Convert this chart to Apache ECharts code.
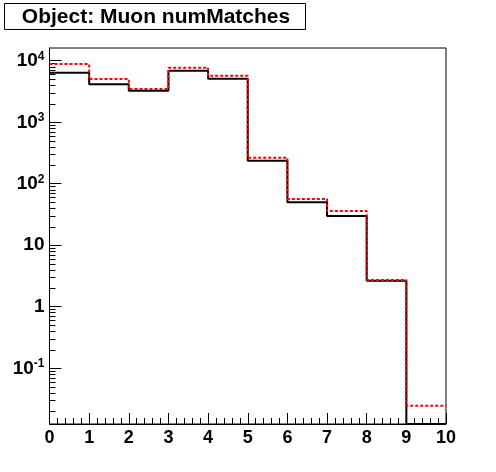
<!DOCTYPE html>
<html>
<head>
<meta charset="utf-8">
<script src="https://cdn.jsdelivr.net/npm/echarts@6/dist/echarts.min.js"></script>
<style>html,body{margin:0;padding:0;background:#fff}#c{width:496px;height:472px}</style>
</head>
<body>
<div id="c"></div>
<script>
// Bin lower edges (numMatches) and contents
var binEdges = [0, 1, 2, 3, 4, 5, 6, 7, 8, 9, 10];
var blackValues = [6340, 4100, 3230, 6820, 5060, 235, 49.5, 29.6, 2.63, 0];
var redValues = [8770, 5000, 3440, 7640, 5660, 263, 56, 35.7, 2.7, 0.0244];
var xTickLabels = ['0','1','2','3','4','5','6','7','8','9','10'];
var yMin = 0.0123, yMax = 16000;
var decades = [0.01, 0.1, 1, 10, 100, 1000, 10000];
var minorMultipliers = [2, 3, 4, 5, 6, 7, 8, 9];

var FONT = '"Liberation Sans", Arial, Helvetica, sans-serif';

function histPoints(vals) {
  var pts = [];
  for (var i = 0; i < vals.length; i++) {
    pts.push([binEdges[i], vals[i] > 0 ? vals[i] : yMin]);
  }
  pts.push([binEdges[vals.length], vals[vals.length - 1] > 0 ? vals[vals.length - 1] : yMin]);
  return pts;
}

var minorTicks = [];
decades.forEach(function (d) {
  minorMultipliers.forEach(function (m) {
    var v = d * m;
    if (v > yMin && v < yMax) minorTicks.push([0, v]);
  });
});

var chart = echarts.init(document.getElementById('c'), null, {renderer: 'canvas'});
chart.setOption({
  animation: false,
  backgroundColor: '#fff',
  grid: {left: 49.5, right: 50, top: 48, bottom: 48, show: true, borderColor: '#000', borderWidth: 1, backgroundColor: 'transparent'},
  xAxis: {
    type: 'value', min: 0, max: 10, interval: 1,
    axisLine: {show: true, onZero: false, lineStyle: {color: '#000', width: 1}},
    axisTick: {show: true, inside: true, length: 11, lineStyle: {color: '#000', width: 1}},
    minorTick: {show: true, splitNumber: 5, length: 6, lineStyle: {color: '#000', width: 1}},
    splitLine: {show: false},
    axisLabel: {
      color: '#000', fontSize: 18, fontWeight: 'bold', fontFamily: FONT, margin: 5,
      formatter: function (v) { var i = binEdges.indexOf(v); return i >= 0 ? xTickLabels[i] : ''; }
    }
  },
  yAxis: {
    type: 'log', logBase: 10, min: yMin, max: yMax, splitNumber: 6,
    axisLine: {show: true, lineStyle: {color: '#000', width: 1}},
    axisTick: {show: true, inside: true, length: 12, lineStyle: {color: '#000', width: 1}},
    splitLine: {show: false},
    axisLabel: {
      color: '#000', margin: 5, showMinLabel: false, showMaxLabel: false,
      formatter: function (v) {
        var l = Math.log10(v), e = Math.round(l);
        if (Math.abs(l - e) > 1e-6) return '';
        if (e === 0) return '{c|1}';
        if (e === 1) return '{c|10}';
        return '{b|10}{s|' + e + '}';
      },
      rich: {
        c: {fontSize: 19, fontWeight: 'bold', fontFamily: FONT, color: '#000', lineHeight: 20},
        b: {fontSize: 19, fontWeight: 'bold', fontFamily: FONT, color: '#000', lineHeight: 20, verticalAlign: 'bottom', padding: [4, 0, 0, 0]},
        s: {fontSize: 12, fontWeight: 'bold', fontFamily: FONT, color: '#000', lineHeight: 13, verticalAlign: 'top'}
      }
    }
  },
  series: [
    {
      type: 'custom', name: 'minorY', silent: true, clip: true,
      data: minorTicks,
      renderItem: function (params, api) {
        var p = api.coord([api.value(0), api.value(1)]);
        var y = Math.round(p[1]) + 0.5;
        return {type: 'line', shape: {x1: p[0], y1: y, x2: p[0] + 6, y2: y}, style: {stroke: '#000', lineWidth: 1}};
      }
    },
    {
      type: 'line', step: 'end', showSymbol: false, clip: true,
      data: histPoints(blackValues),
      lineStyle: {color: '#000', width: 2}, z: 3
    },
    {
      type: 'line', step: 'end', showSymbol: false, clip: true,
      data: histPoints(redValues),
      lineStyle: {color: '#ff0000', width: 2, type: [3, 2]}, z: 4
    }
  ],
  graphic: [
    {type: 'rect', shape: {x: 4.5, y: 3.5, width: 301, height: 26}, style: {fill: '#fff', stroke: '#000', lineWidth: 1}, z: 10},
    {type: 'text', x: 156, y: 17, style: {text: 'Object: Muon numMatches', font: 'bold 21px ' + FONT, fill: '#000', align: 'center', verticalAlign: 'middle'}, z: 11}
  ]
});
</script>
</body>
</html>
